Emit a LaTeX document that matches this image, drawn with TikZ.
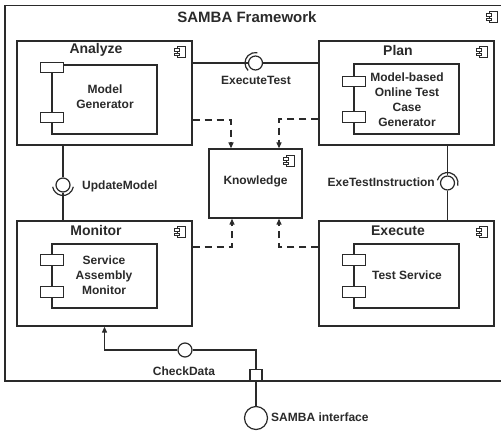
\documentclass[tikz,border=0pt]{standalone}
\usepackage{fontspec}
\setmainfont{Liberation Sans}
\usetikzlibrary{arrows.meta}
\definecolor{ink}{HTML}{2A2A2A}
\tikzset{
  box/.style={draw=ink, line width=1.3pt, fill=white, inner sep=0pt},
  inner/.style={draw=ink, line width=1.1pt, fill=white, inner sep=0pt},
  portbox/.style={draw=ink, line width=1.1pt, fill=white, inner sep=0pt, minimum width=23pt, minimum height=10.5pt},
  ttl/.style={text=ink, font=\fontsize{14}{16}\selectfont\bfseries, inner sep=0pt},
  txt/.style={text=ink, font=\fontsize{12}{15}\selectfont\bfseries, align=center, inner sep=0pt},
  lbl/.style={text=ink, font=\fontsize{12}{15}\selectfont\bfseries, inner sep=0pt},
  wire/.style={draw=ink, line width=1.2pt},
  dep/.style={draw=ink, line width=1.2pt, dash pattern=on 7pt off 5pt, -{Triangle[length=6pt,width=5pt]}},
  arr/.style={draw=ink, line width=1.2pt, -{Triangle[length=6pt,width=5pt]}},
  ball/.style={circle, draw=ink, line width=1.2pt, fill=white, minimum size=13pt, inner sep=0pt},
  sock/.style={draw=ink, line width=1.2pt},
  compicon/.pic={
    \draw[ink, line width=0.8pt, fill=white] (-3,-5.5) rectangle (5,5.5);
    \draw[ink, line width=0.8pt, fill=white] (-6,-3.5) rectangle (-1,-1);
    \draw[ink, line width=0.8pt, fill=white] (-6,1) rectangle (-1,3.5);
  }
}
\begin{document}
\begin{tikzpicture}[x=1pt, y=-1pt]
\useasboundingbox (0,0) rectangle (501,432);
% outer frame (its right side lies beyond the picture)
\coordinate (ftl) at (5,5.5);
\coordinate (fbl) at (5,381);
\draw[draw=ink, line width=1.3pt] (ftl -| 501,0) -- (ftl) -- (fbl) -- (fbl -| 501,0);
\node[ttl, font=\fontsize{15}{17}\selectfont\bfseries] (frametitle) at (247,17) {SAMBA Framework};
\pic at (492,17) {compicon};

% Analyze
\node[box, minimum width=175pt, minimum height=104pt] (analyze) at (104.5,93) {};
\node[ttl] (analyzet) at ([xshift=-8.5pt, yshift=-10pt]analyze.north) {Analyze};
\pic at ([xshift=-12pt, yshift=-12pt]analyze.north east) {compicon};
\node[inner, minimum width=105pt, minimum height=69pt] (mg) at (104.5,99.5) {};
\node[portbox] (mgp1) at (52,67.5) {};
\node[portbox] (mgp2) at (52,117.5) {};
\node[txt] (mgt) at (105,97) {Model\\Generator};

% Plan
\node[box, minimum width=175pt, minimum height=104pt] (plan) at (406.5,93) {};
\node[ttl] (plant) at ([xshift=-8.5pt, yshift=-10pt]plan.north) {Plan};
\pic at ([xshift=-12pt, yshift=-12pt]plan.north east) {compicon};
\node[inner, minimum width=105pt, minimum height=70pt] (mo) at (406.5,99) {};
\node[portbox] (mop1) at (354,81.5) {};
\node[portbox] (mop2) at (354,117) {};
\node[txt] (mot) at (407,99.5) {Model-based\\Online Test\\Case\\Generator};

% Knowledge
\node[box, minimum width=93pt, minimum height=69pt] (know) at (255.5,183.5) {};
\node[txt] (knowt) at (255.5,181) {Knowledge};
\pic at ([xshift=-13pt, yshift=-13pt]know.north east) {compicon};

% Monitor
\node[box, minimum width=175pt, minimum height=105pt] (monitor) at (104.5,273.5) {};
\node[ttl] (monitort) at ([xshift=-8.5pt, yshift=-10pt]monitor.north) {Monitor};
\pic at ([xshift=-12pt, yshift=-12pt]monitor.north east) {compicon};
\node[inner, minimum width=105pt, minimum height=64pt] (sam) at (104.5,276) {};
\node[portbox] (samp1) at (52,260) {};
\node[portbox] (samp2) at (52,292) {};
\node[txt] (samt) at (104,275) {Service\\Assembly\\Monitor};

% Execute
\node[box, minimum width=175pt, minimum height=105pt] (execute) at (406.5,273.5) {};
\node[ttl] (executet) at ([xshift=-8.5pt, yshift=-10pt]execute.north) {Execute};
\pic at ([xshift=-12pt, yshift=-12pt]execute.north east) {compicon};
\node[inner, minimum width=105pt, minimum height=64pt] (ts) at (406.5,276) {};
\node[portbox] (tsp1) at (354,260) {};
\node[portbox] (tsp2) at (354,292) {};
\node[txt] (tst) at (407,275) {Test Service};

% dependencies to Knowledge
\draw[dep] ([yshift=-27pt]analyze.east) -| ([xshift=-24.5pt]know.north);
\draw[dep] ([yshift=-26pt]plan.west) -| ([xshift=23.5pt]know.north);
\draw[dep] ([yshift=26.5pt]monitor.east) -| ([xshift=-23.5pt]know.south);
\draw[dep] ([yshift=26.5pt]execute.west) -| ([xshift=23.5pt]know.south);

% ExecuteTest
\node[ball, minimum size=14pt] (etb) at (255.5,63) {};
\draw[wire] ([yshift=30pt]analyze.east) -- (etb);
\draw[wire] (etb) -- ([yshift=30pt]plan.west);
\draw[sock] (etb.center) ++(135:10.5) arc[start angle=135, end angle=280, radius=10.5];
\node[lbl] (etl) at (256,80) {ExecuteTest};

% UpdateModel
\node[ball, minimum size=14pt] (umb) at (63,185) {};
\draw[wire] (analyze.south -| umb) -- (umb);
\draw[wire] (umb) -- (monitor.north -| umb);
\draw[sock] (umb.center) ++(10:10.5) arc[start angle=10, end angle=170, radius=10.5];
\node[lbl, anchor=west] (uml) at (82,186) {UpdateModel};

% ExeTestInstruction
\node[ball, minimum size=14pt] (eib) at (447.5,183) {};
\draw[wire] (plan.south -| eib) -- (eib);
\draw[wire] (eib) -- (execute.north -| eib);
\draw[sock] (eib.center) ++(195:10.5) arc[start angle=195, end angle=375, radius=10.5];
\node[lbl, anchor=east] (eil) at (435,182) {ExeTestInstruction};

% CheckData and SAMBA interface
\node[portbox, minimum width=12pt, minimum height=11.5pt] (port) at (256,375.25) {};
\node[ball, minimum size=14pt] (cdb) at (185,350) {};
\draw[arr] (cdb.west) -| (monitor.south);
\draw[wire] (cdb.east) -| (port.north);
\node[lbl] (cdl) at (184,371) {CheckData};
\node[circle, draw=ink, line width=1.2pt, fill=white, minimum size=23pt, inner sep=0pt] (iface) at (256,418) {};
\draw[wire] (port.south) -- (iface.north);
\node[lbl, anchor=west] (ifl) at (271,417) {SAMBA interface};
\end{tikzpicture}
\end{document}
